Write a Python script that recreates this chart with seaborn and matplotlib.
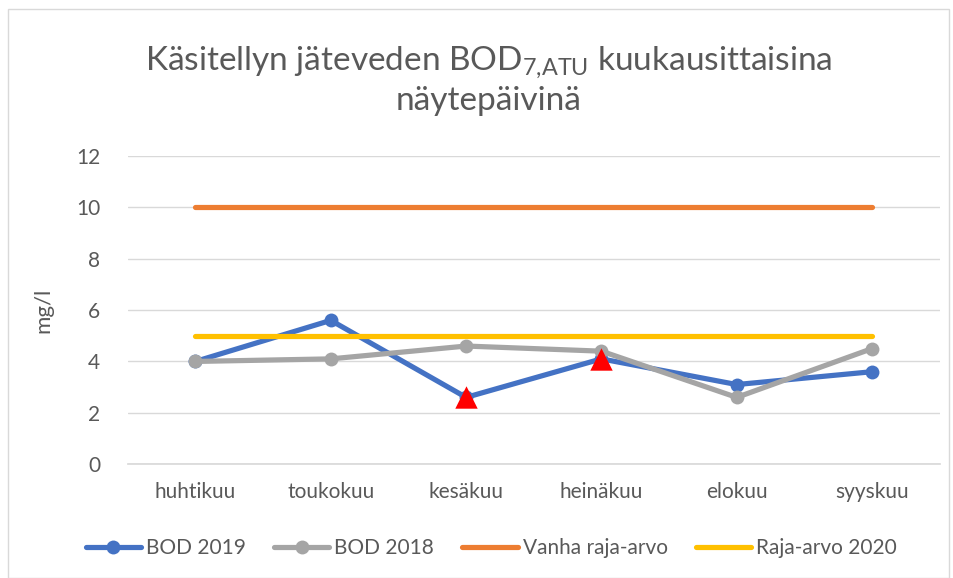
import pandas as pd
import seaborn as sns
import matplotlib.pyplot as plt
from matplotlib.patches import Rectangle

# Data
months = ["huhtikuu", "toukokuu", "kesäkuu", "heinäkuu", "elokuu", "syyskuu"]
bod_2019 = [4.0, 5.6, 2.6, 4.1, 3.1, 3.6]
bod_2018 = [4.0, 4.1, 4.6, 4.4, 2.6, 4.5]
old_limit = [10, 10, 10, 10, 10, 10]
limit_2020 = [5, 5, 5, 5, 5, 5]
# exceedance markers (red triangles)
flag_months = ["kesäkuu", "heinäkuu"]
flag_values = [2.6, 4.1]

series = [
    ("BOD 2019", bod_2019, "#4472C4", "o"),
    ("BOD 2018", bod_2018, "#A5A5A5", "o"),
    ("Vanha raja-arvo", old_limit, "#ED7D31", None),
    ("Raja-arvo 2020", limit_2020, "#FFC000", None),
]
flags = pd.DataFrame({"month": flag_months, "value": flag_values})

sns.set_theme(style="white")
plt.rcParams["font.family"] = ["Lato", "DejaVu Sans"]
plt.rcParams["mathtext.fontset"] = "custom"
plt.rcParams["mathtext.rm"] = "Lato"
plt.rcParams["mathtext.it"] = "Lato"
plt.rcParams["mathtext.default"] = "rm"

fig = plt.figure(figsize=(9.54, 5.78), dpi=100)
ax = fig.add_axes([0.134, 0.197, 0.851, 0.533])

for name, vals, color, mk in series:
    sns.lineplot(
        x=months, y=vals, color=color, marker=mk, linewidth=3.75,
        markersize=10, markeredgewidth=0, solid_capstyle="round",
        label=name, ax=ax, sort=False,
    )
sns.scatterplot(
    data=flags, x="month", y="value", marker="^", color="#FF0000",
    s=260, linewidth=0, zorder=5, ax=ax, legend=False,
)

ax.set_xlim(-0.5, 5.5)
ax.set_ylim(0, 12)
ax.set_yticks(range(0, 13, 2))
ax.yaxis.grid(True, color="#D9D9D9", linewidth=1)
ax.set_axisbelow(True)
for s in ["top", "right", "left"]:
    ax.spines[s].set_visible(False)
ax.spines["bottom"].set_color("#D9D9D9")
ax.tick_params(axis="both", length=0, labelsize=15, colors="#595959")
ax.tick_params(axis="x", pad=13)
ax.tick_params(axis="y", pad=20)
ax.set_xlabel("")
ax.set_ylabel("mg/l", fontsize=16, color="#595959", labelpad=16)

fig.text(0.512, 0.862,
         "Käsitellyn jäteveden BOD$_{7{,}ATU}$ kuukausittaisina\nnäytepäivinä",
         fontsize=24, color="#595959", ha="center", va="center",
         linespacing=1.25)

handles, labels = ax.get_legend_handles_labels()
ax.get_legend().remove()
leg = fig.legend(handles, labels, loc="center", bbox_to_anchor=(0.515, 0.052),
                 ncol=4, frameon=False, fontsize=15, handlelength=2.65,
                 columnspacing=1.35, handletextpad=0.25)
for t in leg.get_texts():
    t.set_color("#595959")

fig.patches.append(Rectangle((0.008, 0.0), 0.987, 0.985, transform=fig.transFigure,
                             fill=False, edgecolor="#D9D9D9", linewidth=1))

fig.savefig("out.png", dpi=100)
